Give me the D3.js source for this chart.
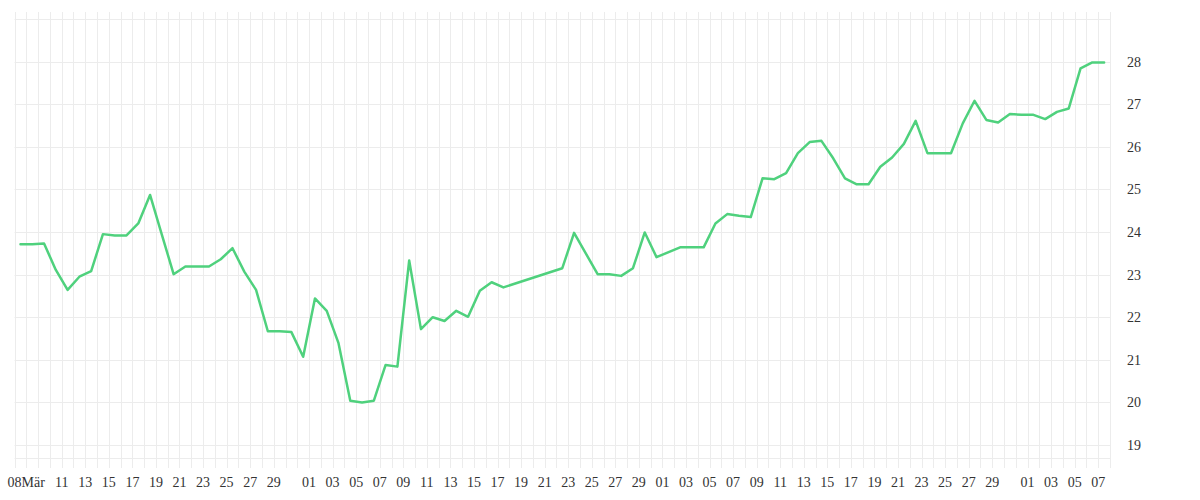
<!DOCTYPE html>
<html>
<head>
<meta charset="utf-8">
<script src="https://cdn.jsdelivr.net/npm/d3@7"></script>
<style>
  html, body { margin: 0; padding: 0; background: #ffffff; }
  svg { display: block; }
</style>
</head>
<body>
<svg id="chart" width="1200" height="500"></svg>
<script>
// ---- data ----
const dates = [
  "2024-03-07","2024-03-08","2024-03-09","2024-03-10","2024-03-11","2024-03-12","2024-03-13",
  "2024-03-14","2024-03-15","2024-03-16","2024-03-17","2024-03-18","2024-03-19","2024-03-20",
  "2024-03-21","2024-03-22","2024-03-23","2024-03-24","2024-03-25","2024-03-26","2024-03-27",
  "2024-03-28","2024-03-29","2024-03-30","2024-03-31","2024-04-01","2024-04-02","2024-04-03",
  "2024-04-04","2024-04-05","2024-04-06","2024-04-07","2024-04-08","2024-04-09","2024-04-10",
  "2024-04-11","2024-04-12","2024-04-13","2024-04-14","2024-04-15","2024-04-16","2024-04-17",
  "2024-04-22","2024-04-23","2024-04-25","2024-04-26","2024-04-27","2024-04-28","2024-04-29",
  "2024-04-30","2024-05-02","2024-05-03","2024-05-04","2024-05-05","2024-05-06","2024-05-07",
  "2024-05-08","2024-05-09","2024-05-10","2024-05-11","2024-05-12","2024-05-13","2024-05-14",
  "2024-05-15","2024-05-16","2024-05-17","2024-05-18","2024-05-19","2024-05-20","2024-05-21",
  "2024-05-22","2024-05-23","2024-05-24","2024-05-25","2024-05-26","2024-05-27","2024-05-28",
  "2024-05-29","2024-05-30","2024-05-31","2024-06-01","2024-06-02","2024-06-03","2024-06-04",
  "2024-06-05","2024-06-06","2024-06-07"
];
const values = [
  23.71, 23.71, 23.73, 23.11, 22.64, 22.95, 23.08,
  23.95, 23.92, 23.92, 24.20, 24.87, 23.94, 23.01,
  23.19, 23.19, 23.19, 23.36, 23.62, 23.07, 22.64,
  21.67, 21.67, 21.65, 21.07, 22.44, 22.15, 21.39,
  20.04, 20.00, 20.04, 20.88, 20.84, 23.33, 21.72,
  22.00, 21.91, 22.15, 22.01, 22.62, 22.82, 22.70,
  23.15, 23.98, 23.01, 23.01, 22.97, 23.15, 23.99,
  23.41, 23.64, 23.64, 23.64, 24.20, 24.42, 24.38,
  24.35, 25.26, 25.24, 25.38, 25.85, 26.11, 26.14,
  25.73, 25.26, 25.12, 25.12, 25.53, 25.75, 26.07,
  26.61, 25.85, 25.85, 25.85, 26.55, 27.08, 26.63,
  26.57, 26.77, 26.75, 26.75, 26.65, 26.82, 26.90,
  27.84, 27.98, 27.98
];
const domainStart = "2024-03-07";
const domainEnd = "2024-06-08";
const firstTickLabel = "08Mär";
const yTicks = [19, 20, 21, 22, 23, 24, 25, 26, 27, 28, 29];
const yLabels = [19, 20, 21, 22, 23, 24, 25, 26, 27, 28];

// ---- layout ----
const parse = d3.timeParse("%Y-%m-%d");
const left = 14.6, right = 1110;
const gridTop = 12, plotBottom = 458, tickBottom = 468;
const font = "'Liberation Serif', 'Times New Roman', serif";
const textColor = "#333333";
const gridColor = "#ececec";
const lineColor = "#4fd17d";

const svg = d3.select("#chart");

const x = d3.scaleTime()
  .domain([parse(domainStart), parse(domainEnd)])
  .range([left, right]);
const y = d3.scaleLinear()
  .domain([19, 28])
  .range([445, 61.6]);

// vertical day grid
const days = d3.timeDay.range(parse(domainStart), d3.timeDay.offset(parse(domainEnd), 1));
svg.append("g")
  .selectAll("line")
  .data(days)
  .join("line")
  .attr("x1", d => Math.round(x(d)) + 0.5)
  .attr("x2", d => Math.round(x(d)) + 0.5)
  .attr("y1", gridTop)
  .attr("y2", tickBottom)
  .attr("stroke", gridColor)
  .attr("stroke-width", 1);

// horizontal grid
svg.append("g")
  .selectAll("line")
  .data(yTicks)
  .join("line")
  .attr("x1", left)
  .attr("x2", right)
  .attr("y1", d => Math.round(y(d)) + 0.5)
  .attr("y2", d => Math.round(y(d)) + 0.5)
  .attr("stroke", gridColor)
  .attr("stroke-width", 1);

svg.append("line")
  .attr("x1", left).attr("x2", right)
  .attr("y1", plotBottom + 0.5).attr("y2", plotBottom + 0.5)
  .attr("stroke", gridColor).attr("stroke-width", 1);

// y labels (right)
svg.append("g")
  .selectAll("text")
  .data(yLabels)
  .join("text")
  .attr("x", right + 17)
  .attr("y", d => y(d))
  .attr("dy", "0.35em")
  .attr("font-family", font)
  .attr("font-size", 14)
  .attr("fill", textColor)
  .text(d => d);

// x labels: odd days (no 31st) after the first label
const tickDates = days.filter(d => d.getDate() % 2 === 1 && d.getDate() !== 31 && d > d3.timeDay.offset(parse(domainStart), 3) && d < parse(domainEnd));
const fmt = d3.timeFormat("%d");
svg.append("g")
  .selectAll("text")
  .data(tickDates)
  .join("text")
  .attr("x", d => x(d))
  .attr("y", 487)
  .attr("text-anchor", "middle")
  .attr("font-family", font)
  .attr("font-size", 14)
  .attr("fill", textColor)
  .text(d => fmt(d));

svg.append("text")
  .attr("x", x(parse(domainStart)) - 7)
  .attr("y", 487)
  .attr("text-anchor", "start")
  .attr("font-family", font)
  .attr("font-size", 14)
  .attr("fill", textColor)
  .text(firstTickLabel);

// line
const pts = dates.map((d, i) => ({ date: d3.timeHour.offset(parse(d), 12), value: values[i] }));
const line = d3.line()
  .x(d => x(d.date))
  .y(d => y(d.value));
svg.append("path")
  .datum(pts)
  .attr("d", line)
  .attr("fill", "none")
  .attr("stroke", lineColor)
  .attr("stroke-width", 2.5)
  .attr("stroke-linejoin", "round")
  .attr("stroke-linecap", "round");
</script>
</body>
</html>
